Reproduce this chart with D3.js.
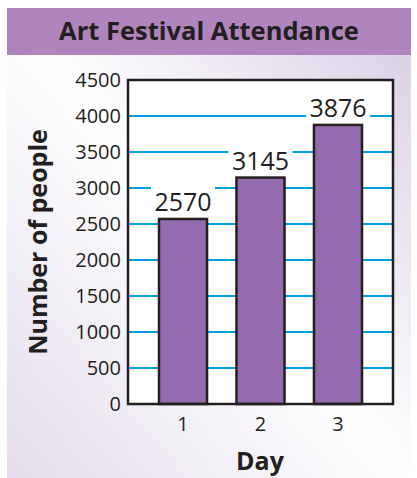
<!DOCTYPE html>
<html><head><meta charset="utf-8">
<script src="https://d3js.org/d3.v7.min.js"></script>
<style>body{margin:0;background:#fff}text{font-family:"Open Sans",sans-serif}</style>
</head><body><svg id="c" width="417" height="478"></svg>
<script>
const days = ["1","2","3"];
const attendance = [2570, 3145, 3876];
const yTicks = [0,500,1000,1500,2000,2500,3000,3500,4000,4500];

const svg = d3.select("#c");
const defs = svg.append("defs");
const g = defs.append("linearGradient").attr("id","bg").attr("x1","0").attr("y1","1").attr("x2","1").attr("y2","0");
g.append("stop").attr("offset","0").attr("stop-color","#e4dcec");
g.append("stop").attr("offset","0.5").attr("stop-color","#ffffff");
g.append("stop").attr("offset","1").attr("stop-color","#d8cce4");
svg.append("rect").attr("x",7).attr("y",8).attr("width",404).attr("height",472).attr("fill","url(#bg)");
svg.append("rect").attr("x",7).attr("y",8).attr("width",404).attr("height",47).attr("fill","#b085bd");
svg.append("text").attr("x",209).attr("y",40).attr("text-anchor","middle").attr("font-size",25.5).attr("font-weight","bold").attr("fill","#231f20").text("Art Festival Attendance");

const L=128,R=393,T=80,B=404;
const x = d3.scaleBand().domain(days).range([L,R]).paddingInner(0.38).paddingOuter(0.4);
const y = d3.scaleLinear().domain([0,4500]).range([B,T]);
svg.append("rect").attr("x",L).attr("y",T).attr("width",R-L).attr("height",B-T).attr("fill","#fff");
svg.append("g").selectAll("line").data(yTicks.slice(1,-1)).join("line")
 .attr("x1",L).attr("x2",R).attr("y1",d=>y(d)).attr("y2",d=>y(d)).attr("stroke","#00a0e0").attr("stroke-width",2);
svg.append("g").selectAll("rect").data(attendance).join("rect")
 .attr("x",(d,i)=>x(days[i])).attr("width",x.bandwidth()).attr("y",d=>y(d)).attr("height",d=>B-y(d))
 .attr("fill","#946bae").attr("stroke","#231f20").attr("stroke-width",2.5);
const lab = svg.append("g").selectAll("g").data(attendance).join("g");
lab.append("rect").attr("x",(d,i)=>x(days[i])+x.bandwidth()/2-32).attr("width",64).attr("y",d=>y(d)-32).attr("height",28).attr("fill","#fff");
lab.append("text").attr("x",(d,i)=>x(days[i])+x.bandwidth()/2).attr("y",d=>y(d)-8).attr("text-anchor","middle").attr("font-size",25).attr("fill","#231f20").text(d=>d);
svg.append("rect").attr("x",L).attr("y",T).attr("width",R-L).attr("height",B-T).attr("fill","none").attr("stroke","#231f20").attr("stroke-width",2.5);
svg.append("g").selectAll("text").data(yTicks).join("text").attr("x",L-7).attr("y",d=>y(d)+7).attr("text-anchor","end").attr("font-size",20).attr("fill","#231f20").text(d=>d);
svg.append("g").selectAll("text").data(days).join("text").attr("x",d=>x(d)+x.bandwidth()/2).attr("y",431).attr("text-anchor","middle").attr("font-size",20).attr("fill","#231f20").text(d=>d);
svg.append("text").attr("x",260).attr("y",470).attr("text-anchor","middle").attr("font-size",25).attr("font-weight","bold").attr("fill","#231f20").text("Day");
svg.append("text").attr("transform","translate(47,242) rotate(-90)").attr("text-anchor","middle").attr("font-size",25).attr("font-weight","bold").attr("fill","#231f20").text("Number of people");
</script></body></html>
